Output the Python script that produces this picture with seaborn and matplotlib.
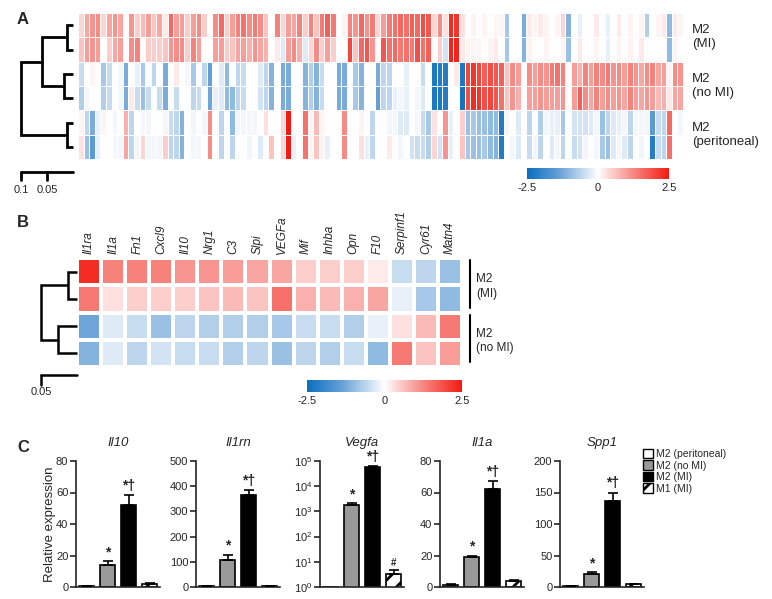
import numpy as np
import pandas as pd
import matplotlib
matplotlib.use("Agg")
import matplotlib.pyplot as plt
import seaborn as sns
from matplotlib.colors import LinearSegmentedColormap
from matplotlib.patches import Patch

sns.set_style("white")
plt.rcParams["font.family"] = ["Liberation Sans", "DejaVu Sans"]
plt.rcParams["axes.unicode_minus"] = False
plt.rcParams["mathtext.default"] = "regular"
plt.rcParams["hatch.linewidth"] = 2.0

# ---------------- Panel A data (108 genes x 6 samples) ----------------
a_mi_1 = [0.4, 0.9, 1.1, 1.2, 0.4, 0.9, 1.1, 0.9, 0.0, 1.1, 0.5, 0.7, 1.0, 0.6, 0.9, 0.2, 1.6, 1.0, 1.0, 0.5, 1.0, 1.2, 0.5, 0.0, 1.2, 1.6, 0.5, 1.0,
          1.3, 1.5, 1.2, 1.4, 1.2, 0.6, 0.0, 1.3, 0.4, 1.0, 0.9, 1.3, 0.5, 1.3, 0.6, 1.4, 1.7, 1.4, 0.0, 0.1, 1.3, 1.1, 1.6, 1.1, 1.4, 0.4, 1.0,
          1.4, 1.5, 1.6, 1.5, 1.7, 1.6, 1.9, 1.8, 0.4, 1.2, 0.3, 2.3, 2.2, 0.3, 0.0, 0.1, 0.0, 0.1, 0.0, 0.1, 0.1, -0.8, 0.0, 0.0, -1.2, 0.2, 0.1, 0.2,
          0.1, 0.0, 0.1, 0.4, -1.1, 0.0, -0.2, 0.0, 0.0, 0.2, 0.0, -0.2, 0.0, 0.2, 0.0, 0.1, 0.0, 0.1, -0.7, 0.0, 0.1, 0.2, -1.0, 0.2, 0.1]
a_mi_2 = [0.6, 1.0, 1.1, 1.0, 0.0, 0.5, 0.9, 1.0, 0.0, 1.2, 1.3, 0.0, 0.5, 0.5, 0.5, 0.6, 1.1, 1.2, 1.2, 0.5, 1.3, 1.0, 0.0, 0.0, 1.0, 1.0, 0.5, 0.6,
          0.9, 1.0, 0.8, 1.1, 0.9, 0.8, 0.0, 0.2, -0.3, 1.0, 1.2, 0.8, -0.3, 0.4, 1.2, 0.5, 1.0, 0.5, 0.0, 0.0, 2.0, 0.6, 1.6, 1.8, 1.1, 0.0, 1.8,
          1.5, 1.6, 1.4, 1.5, 1.4, 1.9, 1.5, 1.7, 0.0, 0.5, -0.4, 2.4, 2.4, 0.2, 0.1, 0.1, 0.1, 0.0, 0.1, 0.2, 0.0, -0.8, 0.0, 0.0, -1.1, 0.1, 0.0, 0.0,
          0.1, 0.0, 0.0, 0.1, -0.9, 0.0, 0.2, 0.0, 0.0, 0.1, 0.0, -0.2, 0.0, 0.1, 0.0, 0.1, 0.0, 0.2, 0.0, 0.0, 0.0, 0.0, -1.0, 0.1, 0.0]
a_nomi_1 = [-0.5, 0.0, 0.1, 0.0, -0.8, -0.5, 0.0, -0.1, -1.2, 0.0, -0.2, -0.8, 0.0, -0.6, 0.0, -1.2, 0.0, 0.2, 0.0, -0.1, -0.8, 0.0, -0.6, -1.4, 0.0, -0.3, -1.0, 0.0,
            -0.6, -0.5, 0.0, 0.0, -0.3, -0.6, -1.1, 0.0, -1.2, -1.2, 0.0, 0.0, -1.1, -0.7, -1.1, -0.5, 0.0, 0.0, -1.2, -1.2, 0.0, -0.8, -1.1, 0.0, 0.0, -1.2, -0.6,
            -0.6, 0.0, 0.0, -0.2, 0.0, 0.0, -0.5, 0.0, -2.3, -2.2, -2.2, 0.0, 0.2, -2.3, 2.0, 2.2, 2.0, 1.7, 1.9, 1.8, 1.7, 0.6, 1.2, 1.0, 0.0, 1.2, 1.0, 1.2,
            1.1, 1.4, 1.5, 1.3, 0.0, 1.0, 0.8, 1.3, 1.0, 1.3, 1.2, 1.4, 1.1, 1.2, 1.0, 1.3, 1.1, 0.9, 1.2, 1.3, 0.9, 1.0, 0.1, 1.2, 1.1]
a_nomi_2 = [-0.7, -0.1, 0.0, 0.0, -0.7, -0.5, 0.0, -0.1, -1.2, 0.2, -0.5, -0.9, -0.5, 0.0, -0.5, -1.2, 0.0, -0.5, 0.0, 0.0, -0.6, -0.5, 0.0, -1.3, -0.2, -0.3, -1.0, -1.0,
            -0.6, -0.5, 0.0, 0.0, -0.4, -0.6, -1.1, 0.0, -1.2, -1.2, 0.0, 0.0, -1.1, -0.7, -1.1, -0.5, 0.0, 0.0, -1.2, -1.2, 0.0, -0.8, -1.1, 0.0, 0.0, -1.4, -0.6,
            -0.6, -0.2, -0.1, -0.2, 0.0, -0.1, -0.3, 0.0, -2.3, -2.3, -2.2, 0.0, 0.0, -2.4, 1.9, 2.3, 2.2, 1.9, 2.0, 1.8, 1.5, 0.6, 1.1, 0.8, 0.0, 1.0, 1.0, 1.1,
            1.0, 1.0, 1.0, 1.1, 0.0, 1.0, 1.7, 1.2, 0.9, 1.3, 1.0, 1.2, 1.0, 1.1, 0.9, 1.3, 1.0, 0.9, 1.1, 1.0, 0.7, 0.8, 0.2, 0.9, 0.9]
a_peri_1 = [0.1, -0.6, -1.2, -0.2, 0.1, 0.0, -0.1, 0.0, 0.8, -0.6, 0.0, -0.1, -0.1, 0.0, 0.0, -0.1, -0.5, -0.6, -1.1, 0.0, -0.1, 0.0, -0.1, 1.2, 0.0, -0.6, 0.0, -1.0,
            -0.1, -0.1, -0.1, -0.1, 0.0, 0.3, 0.0, 0.0, 0.4, 2.5, 0.0, 0.0, 1.5, 0.1, 0.7, 0.1, 0.0, 0.0, 0.0, 1.2, 0.0, 0.0, 0.1, 0.0, -0.6, 0.0, 0.0,
            -0.1, -0.1, -0.3, -0.3, 0.0, -0.1, -0.5, -0.8, 0.3, 0.0, 1.1, -0.2, 0.0, 0.5, -0.9, -0.8, -0.9, -0.9, -1.0, -1.0, -2.2, -0.1, 0.0, -0.3, 0.0, -0.6, 0.0, -0.7,
            -0.1, -0.2, -0.2, -0.8, 0.0, -0.4, -0.4, -0.4, -0.3, -0.1, -0.9, -0.6, -0.3, -0.2, -0.1, -0.6, -0.1, -0.1, -0.1, -1.5, -0.5, -0.6, 1.6, 0.0, -0.1]
a_peri_2 = [0.3, -0.9, -1.5, -0.2, 0.0, 0.0, -0.1, -0.1, 0.9, -0.6, -0.1, 0.4, -0.1, -0.1, -0.1, 0.5, -0.6, -0.6, -1.1, 0.0, -0.1, -0.1, 0.0, 1.2, 0.0, -0.6, 0.0, -0.6,
            0.0, 0.0, -0.1, 0.0, -0.3, 0.0, 0.6, 0.0, 0.4, 2.5, -0.2, 0.0, 1.5, 0.1, 0.6, 0.1, -0.2, 0.0, 0.0, 1.2, 0.0, 0.0, 0.3, -0.2, -0.6, 0.0, 0.0,
            0.2, 0.0, -0.1, 0.0, -0.4, -0.5, -0.5, -0.7, 0.4, -0.4, 1.1, -0.2, 0.0, 0.6, -0.8, -0.9, -0.9, -0.8, -1.0, -1.1, -2.2, 0.0, -0.1, -0.3, 0.0, -0.5, -0.1, -0.6,
            0.0, -0.3, -0.1, -0.6, 0.0, -0.5, -0.4, -0.1, 0.0, -0.1, -0.8, -0.9, -0.3, -0.1, -0.3, -0.6, 0.0, -0.1, 0.0, -2.2, -0.5, -0.6, 1.5, 0.0, 0.0]
a_group_labels = ["M2\n(MI)", "M2\n(no MI)", "M2\n(peritoneal)"]
# dendrogram merges: (child, child, height); leaves 0..5, new nodes 6..
a_linkage = [(0, 1, 0.0115), (2, 3, 0.0173), (4, 5, 0.0115), (6, 7, 0.0596), (9, 8, 0.1)]
a_scale_ticks = [0.1, 0.05]

# ---------------- Panel B data ----------------
b_genes = ["Il1ra", "Il1a", "Fn1", "Cxcl9", "Il10", "Nrg1", "C3", "Slpi", "VEGFa",
           "Mif", "Inhba", "Opn", "F10", "Serpinf1", "Cyr61", "Matn4"]
b_mi_1 = [2.3, 1.3, 1.3, 1.3, 1.1, 1.1, 1.0, 0.9, 0.9, 0.5, 0.5, 0.5, 0.2, -0.5, -0.6, -0.9]
b_mi_2 = [1.4, 0.3, 0.5, 0.5, 0.5, 0.6, 0.7, 0.6, 1.5, 0.8, 0.7, 0.8, 0.9, -0.2, -0.8, -1.0]
b_nomi_1 = [-1.3, -0.3, -0.5, -0.9, -0.6, -0.7, -0.7, -0.7, -0.8, -0.5, -0.5, -0.7, -0.2, 0.3, 0.7, 1.4]
b_nomi_2 = [-1.1, -0.3, -0.6, -0.4, -0.5, -0.5, -0.7, -0.6, -0.9, -0.6, -0.7, -0.5, -1.0, 1.4, 0.6, 1.0]
b_group_labels = ["M2\n(MI)", "M2\n(no MI)"]
b_linkage = [(0, 1, 0.0125), (2, 3, 0.026), (4, 5, 0.05)]
b_scale_ticks = [0.05]

cbar_ticks = [-2.5, 0, 2.5]
cbar_ticklabels = ["-2.5", "0", "2.5"]

# ---------------- Panel C data ----------------
c_groups = ["M2 (peritoneal)", "M2 (no MI)", "M2 (MI)", "M1 (MI)"]
c_genes = ["Il10", "Il1rn", "Vegfa", "Il1a", "Spp1"]
il10_vals = [0.5, 14, 52, 2.0]
il10_errs = [0.2, 2.2, 6.5, 0.6]
il1rn_vals = [2, 107, 365, 2]
il1rn_errs = [0.5, 20, 18, 0.5]
vegfa_vals = [1.0, 1800, 60000, 3.4]
vegfa_errs = [0.0, 300, 3000, 1.3]
il1a_vals = [1.5, 19, 62, 4.0]
il1a_errs = [0.3, 1.0, 5.5, 0.5]
spp1_vals = [1.0, 21, 137, 4.0]
spp1_errs = [0.3, 2.5, 13, 1.0]
c_marks = {"Il10": ["", "*", "*†", ""], "Il1rn": ["", "*", "*†", ""],
           "Vegfa": ["", "*", "*†", "#"], "Il1a": ["", "*", "*†", ""],
           "Spp1": ["", "*", "*†", ""]}
c_yticks = {"Il10": [0, 20, 40, 60, 80], "Il1rn": [0, 100, 200, 300, 400, 500],
            "Vegfa": [1, 10, 100, 1000, 10000, 100000], "Il1a": [0, 20, 40, 60, 80],
            "Spp1": [0, 50, 100, 150, 200]}

# ---------------- styling ----------------
bar_colors = ["white", "#999999", "black", "white"]
bar_hatches = ["", "", "", "//"]
cmap = LinearSegmentedColormap.from_list(
    "bluered", [(0, "#0b6fbf"), (0.22, "#639fd6"), (0.42, "#d3e3f3"), (0.5, "#ffffff"),
                (0.58, "#fcd6d5"), (0.76, "#f7827c"), (1, "#f31c12")])

W, H = 772, 599
fig = plt.figure(figsize=(W / 100, H / 100), dpi=100)


def add_ax(x0, y0, x1, y1):
    return fig.add_axes([x0 / W, 1 - y1 / H, (x1 - x0) / W, (y1 - y0) / H])


def draw_dendro(ax, linkage, n_leaves, lw):
    pos = {i: (i + 0.5, 0.0) for i in range(n_leaves)}
    nid = n_leaves
    for a, b, h in linkage:
        ya, ha = pos[a]
        yb, hb = pos[b]
        ax.plot([ha, h, h, hb], [ya, ya, yb, yb], color="black", lw=lw,
                solid_capstyle="butt", solid_joinstyle="miter", clip_on=False)
        pos[nid] = ((ya + yb) / 2, h)
        nid += 1


# ================= Panel A =================
axA = add_ax(78, 13, 683, 159)
caxA = add_ax(527, 168, 669, 179)
dataA = pd.DataFrame([a_mi_1, a_mi_2, a_nomi_1, a_nomi_2, a_peri_1, a_peri_2])
sns.heatmap(dataA, ax=axA, cmap=cmap, vmin=-2.5, vmax=2.5, linewidths=0.5, linecolor="white",
            xticklabels=False, yticklabels=False, cbar_ax=caxA,
            cbar_kws={"orientation": "horizontal", "ticks": cbar_ticks})
for i, lab in enumerate(a_group_labels):
    axA.text(len(a_mi_1) + 1.6, 2 * i + 1.0, lab, ha="left", va="center", fontsize=9.5,
             linespacing=1.25)
cbA = axA.collections[0].colorbar
cbA.outline.set_visible(False)
cbA.set_ticklabels(cbar_ticklabels)
caxA.tick_params(length=0, labelsize=8, pad=3)

dA = add_ax(21, 13, 73, 159)
dA.set_xlim(a_linkage[-1][2], 0)
dA.set_ylim(6, 0)
dA.axis("off")
draw_dendro(dA, a_linkage, 6, 2.0)
ybar = 6.53
dA.plot([a_linkage[-1][2], 0], [ybar, ybar], color="black", lw=2.0, clip_on=False)
for t in a_scale_ticks:
    dA.plot([t, t], [ybar, ybar + 0.33], color="black", lw=2.0, clip_on=False)
    dA.text(t, ybar + 0.75, str(t), ha="center", va="center", fontsize=8)

fig.text(17 / W, 1 - 20 / H, "A", fontsize=12, fontweight="bold", va="center")

# ================= Panel B =================
axB = add_ax(77, 258, 462, 367)
caxB = add_ax(307, 380, 462, 392)
dataB = pd.DataFrame([b_mi_1, b_mi_2, b_nomi_1, b_nomi_2], columns=b_genes)
sns.heatmap(dataB, ax=axB, cmap=cmap, vmin=-2.5, vmax=2.5, linewidths=1.5, linecolor="white",
            xticklabels=b_genes, yticklabels=False, cbar_ax=caxB,
            cbar_kws={"orientation": "horizontal", "ticks": cbar_ticks})
axB.xaxis.set_ticks_position("top")
axB.tick_params(axis="x", length=0, pad=3, labeltop=True, labelbottom=False, labelrotation=90,
                labelsize=8.5)
for lbl in axB.get_xticklabels():
    lbl.set_fontstyle("italic")
    lbl.set_va("bottom")
axB.set_xlabel("")
nB = len(b_genes)
for i, lab in enumerate(b_group_labels):
    axB.plot([nB + 0.33, nB + 0.33], [2 * i + 0.08, 2 * i + 1.83], color="black", lw=1.5,
             clip_on=False)
    axB.text(nB + 0.58, 2 * i + 1.05, lab, ha="left", va="center", fontsize=8.5, linespacing=1.25)
cbB = axB.collections[0].colorbar
cbB.outline.set_visible(False)
cbB.set_ticklabels(cbar_ticklabels)
caxB.tick_params(length=0, labelsize=8, pad=3)

dB = add_ax(41, 258, 77, 367)
dB.set_xlim(b_linkage[-1][2], 0)
dB.set_ylim(4, 0)
dB.axis("off")
draw_dendro(dB, b_linkage, 4, 1.8)
ybB = 4.29
dB.plot([b_linkage[-1][2], 0], [ybB, ybB], color="black", lw=1.8, clip_on=False)
for t in b_scale_ticks:
    dB.plot([t, t], [ybB, ybB + 0.37], color="black", lw=1.8, clip_on=False)
    dB.text(t, ybB + 0.62, str(t), ha="center", va="center", fontsize=8)

fig.text(17 / W, 1 - 222 / H, "B", fontsize=12, fontweight="bold", va="center")

# ================= Panel C =================
c_vals = {"Il10": (il10_vals, il10_errs), "Il1rn": (il1rn_vals, il1rn_errs),
          "Vegfa": (vegfa_vals, vegfa_errs), "Il1a": (il1a_vals, il1a_errs),
          "Spp1": (spp1_vals, spp1_errs)}
x_starts = [76, 196, 320, 440, 560]
for gene, x0 in zip(c_genes, x_starts):
    ax = add_ax(x0, 461, x0 + 84, 587)
    vals, errs = c_vals[gene]
    is_log = gene == "Vegfa"
    if is_log:
        ax.set_yscale("log")
    df = pd.DataFrame({"group": c_groups, "value": vals})
    sns.barplot(data=df, x="group", y="value", hue="group", palette=bar_colors, legend=False,
                edgecolor="black", linewidth=1.2, errorbar=None, width=0.75, ax=ax)
    for p, hatch in zip(ax.patches, bar_hatches):
        if hatch:
            p.set_hatch(hatch)
    for p, v, e, m in zip(ax.patches, vals, errs, c_marks[gene]):
        xc = p.get_x() + p.get_width() / 2
        if e > 0:
            ax.errorbar(xc, v, yerr=[[0], [e]], fmt="none", ecolor="black", elinewidth=1.2,
                        capsize=3.5, capthick=1.2, zorder=3)
        if m:
            fs = 7 if m == "#" else 10
            ax.annotate(m, (xc, v + e), xytext=(0, 1.5), textcoords="offset points",
                        ha="center", va="bottom", fontsize=fs, fontweight="bold")
    yt = c_yticks[gene]
    ax.set_ylim(yt[0], yt[-1])
    ax.set_yticks(yt)
    if is_log:
        ax.minorticks_off()
    ax.set_xticks([])
    ax.set_xlabel("")
    ax.set_ylabel("")
    ax.set_xlim(-0.5, 3.5)
    sns.despine(ax=ax)
    for s in ["left", "bottom"]:
        ax.spines[s].set_linewidth(1.2)
    ax.tick_params(axis="y", direction="out", length=4, width=1.2, labelsize=8, pad=1.5, left=True)
    ax.set_title(gene, fontstyle="italic", fontsize=9.5, pad=11)

fig.text(50 / W, 1 - 524 / H, "Relative expression", rotation=90, ha="center", va="center",
         fontsize=9.5)
fig.text(17 / W, 1 - 447 / H, "C", fontsize=12, fontweight="bold", va="center")

handles = [Patch(facecolor=c, edgecolor="black", hatch=h, label=g, linewidth=1.0)
           for c, h, g in zip(bar_colors, bar_hatches, c_groups)]
fig.legend(handles=handles, loc="upper left", bbox_to_anchor=(643 / W, 1 - 449 / H),
           frameon=False, fontsize=7.5, handlelength=1.0, handleheight=1.0, handletextpad=0.25,
           labelspacing=0.12, borderaxespad=0, borderpad=0)

fig.savefig("out.png", dpi=100, facecolor="white")
